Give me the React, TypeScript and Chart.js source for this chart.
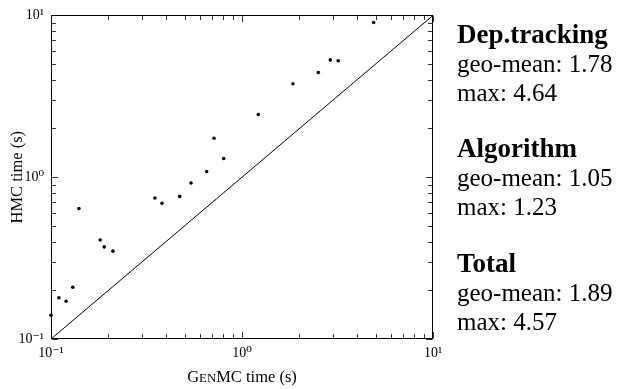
import React, { useEffect, useRef } from 'react';
import { Chart, registerables } from 'chart.js';

Chart.register(...registerables);

// ---- data ----
const genmcTimes = [0.100, 0.110, 0.120, 0.130, 0.140, 0.181, 0.190, 0.211, 0.350, 0.381, 0.472, 0.541, 0.653, 0.714, 0.802, 1.217, 1.849, 2.51, 2.90, 3.19, 4.89];
const hmcTimes = [0.140, 0.180, 0.171, 0.209, 0.640, 0.409, 0.371, 0.349, 0.743, 0.690, 0.761, 0.920, 1.083, 1.742, 1.305, 2.44, 3.78, 4.43, 5.31, 5.24, 9.03];
const diagonalX = [0.1, 10];
const diagonalY = [0.1, 10];
const axisMin = 0.1;
const axisMax = 10;
const decadeTicks = [0.1, 1, 10];
const decadeLabels = ['10\u207B\u00B9', '10\u2070', '10\u00B9'];
const sectionNames = ['Dep.tracking', 'Algorithm', 'Total'];
const geoMeans = ['1.78', '1.05', '1.89'];
const maxValues = ['4.64', '1.23', '4.57'];
const yTitle = 'HMC time (s)';

const SERIF = '"Liberation Serif", "DejaVu Serif", serif';

const framePlugin = {
  id: 'frameTicks',
  afterDatasetsDraw(chart: any) {
    const { ctx, chartArea: a, scales } = chart;
    const xs = scales.x;
    const ys = scales.y;
    const L = Math.round(a.left) + 0.5;
    const R = Math.round(a.right) - 0.5;
    const T = Math.round(a.top) + 0.5;
    const B = Math.round(a.bottom) - 0.5;
    ctx.save();
    ctx.lineWidth = 1;
    ctx.strokeStyle = '#333';
    const vals: number[] = [];
    for (let d = -1; d <= 0; d++) {
      for (let m = 1; m <= 9; m++) vals.push(m * Math.pow(10, d));
    }
    vals.push(axisMax);
    ctx.beginPath();
    for (const v of vals) {
      const lg = Math.log10(v);
      const major = Math.abs(lg - Math.round(lg)) < 1e-9;
      const len = major ? 6.5 : 4.5;
      const px = Math.round(xs.getPixelForValue(v)) + 0.5;
      const py = Math.round(ys.getPixelForValue(v)) + 0.5;
      ctx.moveTo(px, B); ctx.lineTo(px, B - len);
      ctx.moveTo(px, T); ctx.lineTo(px, T + len);
      ctx.moveTo(L, py); ctx.lineTo(L + len, py);
      ctx.moveTo(R, py); ctx.lineTo(R - len, py);
    }
    ctx.stroke();
    ctx.strokeStyle = '#000';
    ctx.strokeRect(L, T, R - L, B - T);
    ctx.restore();
  },
  afterDraw(chart: any) {
    const { ctx, chartArea: a } = chart;
    ctx.save();
    ctx.fillStyle = '#000';
    ctx.textBaseline = 'alphabetic';
    // x axis title with small caps "GenMC"
    const parts: [string, number][] = [['G', 16.5], ['EN', 12.8], ['MC time (s)', 16.5]];
    let total = 0;
    for (const [t, s] of parts) { ctx.font = `${s}px ${SERIF}`; total += ctx.measureText(t).width; }
    let x = (a.left + a.right) / 2 - total / 2;
    for (const [t, s] of parts) {
      ctx.font = `${s}px ${SERIF}`;
      ctx.fillText(t, x, 381.5);
      x += ctx.measureText(t).width;
    }
    // summary text
    const tx = 457;
    sectionNames.forEach((name, i) => {
      const base = 42.5 + i * 114.5;
      ctx.font = `bold 27px ${SERIF}`;
      ctx.fillText(name, tx, base);
      ctx.font = `25px ${SERIF}`;
      ctx.fillText(`geo-mean: ${geoMeans[i]}`, tx, base + 29);
      ctx.fillText(`max: ${maxValues[i]}`, tx, base + 58);
    });
    ctx.restore();
  },
};

export default function App() {
  const ref = useRef<HTMLCanvasElement>(null);
  useEffect(() => {
    if (!ref.current) return;
    const tickFont = { family: SERIF, size: 14 };
    const labelFor = (v: any) => {
      const i = decadeTicks.findIndex((d) => Math.abs(d - Number(v)) < 1e-9);
      return i >= 0 ? decadeLabels[i] : '';
    };
    const chart = new Chart(ref.current, {
      type: 'scatter',
      data: {
        datasets: [
          {
            type: 'line',
            data: diagonalX.map((v, i) => ({ x: v, y: diagonalY[i] })),
            borderColor: '#000',
            borderWidth: 1,
            pointRadius: 0,
            fill: false,
          } as any,
          {
            type: 'scatter',
            data: genmcTimes.map((v, i) => ({ x: v, y: hmcTimes[i] })),
            backgroundColor: '#000',
            borderColor: '#000',
            borderWidth: 0,
            pointRadius: 1.8,
            clip: false,
          } as any,
        ],
      },
      options: {
        animation: false,
        responsive: false,
        devicePixelRatio: 1,
        layout: { padding: { left: 0, top: 10, right: 188, bottom: 0 } },
        plugins: { legend: { display: false }, tooltip: { enabled: false } },
        scales: {
          x: {
            type: 'logarithmic',
            position: 'bottom',
            min: axisMin,
            max: axisMax,
            grid: { display: false, drawTicks: false },
            border: { display: false },
            ticks: { autoSkip: false, maxRotation: 0, padding: 6, color: '#000', font: tickFont, callback: labelFor },
            afterBuildTicks: (s: any) => { s.ticks = decadeTicks.map((v) => ({ value: v })); },
            afterFit: (s: any) => { s.height = 50; },
          } as any,
          y: {
            type: 'logarithmic',
            position: 'left',
            min: axisMin,
            max: axisMax,
            grid: { display: false, drawTicks: false },
            border: { display: false },
            title: { display: true, text: yTitle, color: '#000', font: { family: SERIF, size: 16.5 }, padding: { top: 8, bottom: 0 } },
            ticks: { autoSkip: false, padding: 7, color: '#000', font: tickFont, callback: labelFor },
            afterBuildTicks: (s: any) => { s.ticks = decadeTicks.map((v) => ({ value: v })); },
            afterFit: (s: any) => { s.width = 51; },
          } as any,
        },
      },
      plugins: [framePlugin],
    });
    return () => chart.destroy();
  }, []);
  return (
    <div style={{ position: 'absolute', left: 0, top: 0, width: 621, height: 389, background: '#fff' }}>
      <canvas ref={ref} width={621} height={389} style={{ display: 'block', width: 621, height: 389 }} />
    </div>
  );
}
